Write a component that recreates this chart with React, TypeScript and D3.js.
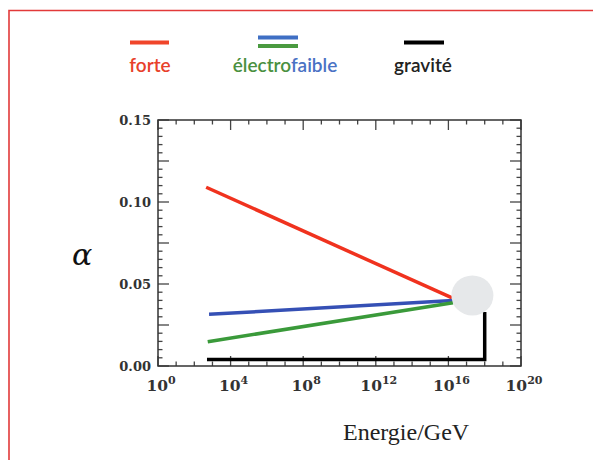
import { useEffect, useRef } from "react";
import * as d3 from "d3";

// energies in GeV, couplings alpha
const forteE = [4.5e2, 1.6e16];
const forteAlpha = [0.109, 0.0415];
const faibleE = [6.5e2, 1.8e16];
const faibleAlpha = [0.0315, 0.040];
const electroE = [5.5e2, 1.8e16];
const electroAlpha = [0.0148, 0.0386];
const graviteE = [5e2, 1e18, 1e18];
const graviteAlpha = [0.004, 0.004, 0.033];
const unifE = 2.1e17;
const unifAlpha = 0.043;

const xMajorExp = [0, 4, 8, 12, 16, 20];
const xMinorExp = d3.range(0, 21);
const yMajor = [0, 0.025, 0.05, 0.075, 0.1, 0.125, 0.15];
const yMinor = d3.range(0, 0.1501, 0.005);
const yLabels = [0, 0.05, 0.1, 0.15];

const W = 593;
const H = 460;

export default function App() {
  const ref = useRef<SVGSVGElement>(null);

  useEffect(() => {
    const svg = d3.select(ref.current);
    svg.selectAll("*").remove();

    // red page frame
    svg.append("path")
      .attr("d", `M9,${H} L9,10.5 L${W},10.5`)
      .attr("fill", "none")
      .attr("stroke", "#e23a3a")
      .attr("stroke-width", 1.6);

    const x = d3.scaleLog().domain([1, 1e20]).range([158, 521]);
    const y = d3.scaleLinear().domain([0, 0.15]).range([366, 120]);
    const [x0, x1] = x.range();
    const [y0, y1] = y.range();

    const g = svg.append("g");

    // ticks
    const tickColor = "#444";
    xMinorExp.forEach((e) => {
      const major = xMajorExp.includes(e);
      const len = major ? 10 : 4.5;
      const px = x(Math.pow(10, e));
      g.append("line").attr("x1", px).attr("x2", px).attr("y1", y0).attr("y2", y0 - len)
        .attr("stroke", tickColor).attr("stroke-width", 1.3);
      g.append("line").attr("x1", px).attr("x2", px).attr("y1", y1).attr("y2", y1 + len)
        .attr("stroke", tickColor).attr("stroke-width", 1.3);
    });
    yMinor.forEach((v) => {
      const major = yMajor.some((m) => Math.abs(m - v) < 1e-6);
      const len = major ? 11 : 4.5;
      const py = y(v);
      g.append("line").attr("x1", x0).attr("x2", x0 + len).attr("y1", py).attr("y2", py)
        .attr("stroke", tickColor).attr("stroke-width", 1.3);
      g.append("line").attr("x1", x1).attr("x2", x1 - len).attr("y1", py).attr("y2", py)
        .attr("stroke", tickColor).attr("stroke-width", 1.3);
    });

    g.append("rect")
      .attr("x", x0).attr("y", y1)
      .attr("width", x1 - x0).attr("height", y0 - y1)
      .attr("fill", "none").attr("stroke", "#333").attr("stroke-width", 1.5);

    // y labels
    yLabels.forEach((v) => {
      g.append("text")
        .attr("x", 151).attr("y", y(v) + 4.5)
        .attr("text-anchor", "end")
        .attr("font-family", "DejaVu Serif")
        .attr("font-weight", "bold")
        .attr("font-size", 13)
        .attr("fill", "#333")
        .text(d3.format(".2f")(v));
    });

    // x labels
    xMajorExp.forEach((e) => {
      const t = g.append("text")
        .attr("x", x(Math.pow(10, e)) + 3).attr("y", 391)
        .attr("text-anchor", "middle")
        .attr("font-family", "DejaVu Serif")
        .attr("font-weight", "bold")
        .attr("font-size", 15.5)
        .attr("fill", "#333");
      t.append("tspan").text("10");
      t.append("tspan").attr("dy", -7).attr("font-size", 11).text(String(e));
    });

    // curves
    const line = d3.line<[number, number]>().x((d) => x(d[0])).y((d) => y(d[1]));
    const draw = (es: number[], as: number[], color: string) => {
      g.append("path")
        .attr("d", line(es.map((e, i) => [e, as[i]]) as [number, number][]))
        .attr("fill", "none")
        .attr("stroke", color)
        .attr("stroke-width", 3.5);
    };
    draw(forteE, forteAlpha, "#f0321e");
    draw(faibleE, faibleAlpha, "#3550b5");
    draw(electroE, electroAlpha, "#3a9a3a");
    draw(graviteE, graviteAlpha, "#000");

    g.append("ellipse")
      .attr("cx", x(unifE)).attr("cy", y(unifAlpha))
      .attr("rx", 21).attr("ry", 20)
      .attr("fill", "#e6e8ea");

    // axis titles
    svg.append("text")
      .attr("x", 72).attr("y", 265)
      .attr("font-family", "DejaVu Serif")
      .attr("font-style", "italic")
      .attr("font-size", 30)
      .attr("fill", "#111")
      .text("α");
    svg.append("text")
      .attr("x", 343).attr("y", 440)
      .attr("font-family", "Liberation Serif")
      .attr("font-size", 24)
      .attr("fill", "#222")
      .text("Energie/GeV");

    // legend
    const lg = svg.append("g").attr("font-family", "Lato").attr("font-size", 19).attr("font-weight", 600);
    lg.append("line").attr("x1", 130).attr("x2", 169).attr("y1", 42.5).attr("y2", 42.5)
      .attr("stroke", "#f0452a").attr("stroke-width", 4);
    lg.append("text").attr("x", 150).attr("y", 72).attr("text-anchor", "middle")
      .attr("fill", "#e8402a").text("forte");

    lg.append("line").attr("x1", 258).attr("x2", 298).attr("y1", 37.5).attr("y2", 37.5)
      .attr("stroke", "#3f6fc4").attr("stroke-width", 4);
    lg.append("line").attr("x1", 258).attr("x2", 298).attr("y1", 46).attr("y2", 46)
      .attr("stroke", "#4a9a40").attr("stroke-width", 4);
    const et = lg.append("text").attr("x", 285).attr("y", 72).attr("text-anchor", "middle");
    et.append("tspan").attr("fill", "#4a9040").text("électro");
    et.append("tspan").attr("fill", "#4a72c4").text("faible");

    lg.append("line").attr("x1", 404).attr("x2", 444).attr("y1", 42.5).attr("y2", 42.5)
      .attr("stroke", "#000").attr("stroke-width", 4);
    lg.append("text").attr("x", 423).attr("y", 72).attr("text-anchor", "middle")
      .attr("fill", "#222").text("gravité");
  }, []);

  return (
    <svg
      ref={ref}
      width={W}
      height={H}
      style={{ position: "absolute", left: 0, top: 0, background: "#fff" }}
    />
  );
}
